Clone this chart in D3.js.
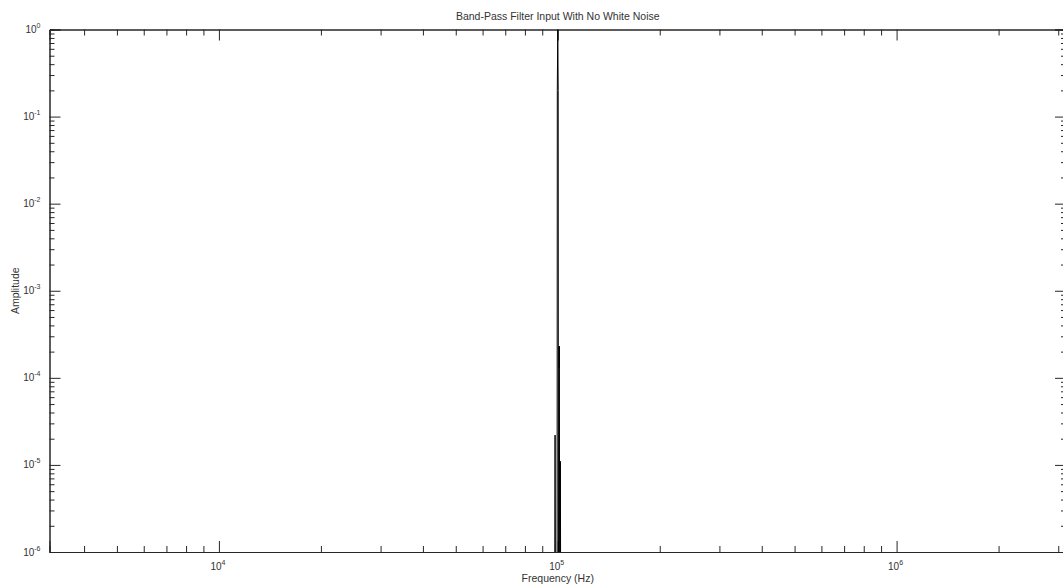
<!DOCTYPE html>
<html><head><meta charset="utf-8">
<script src="https://cdn.jsdelivr.net/npm/d3@7"></script>
<style>
body{margin:0;background:#fff;}
svg{display:block;font-family:"Liberation Sans",Arial,sans-serif;}
</style></head>
<body>
<svg id="chart" width="1063" height="586"></svg>
<script>
// ---- data ----
const title = "Band-Pass Filter Input With No White Noise";
const xLabel = "Frequency (Hz)";
const yLabel = "Amplitude";
const xDomain = [3162.28, 3162278];
const yDomain = [1e-6, 1];
const xMajorTicks = [1e4, 1e5, 1e6];
const xMajorExp = ["4", "5", "6"];
const yMajorTicks = [1e-6, 1e-5, 1e-4, 1e-3, 1e-2, 1e-1, 1];
const yMajorExp = ["-6", "-5", "-4", "-3", "-2", "-1", "0"];
const freq = [97800, 98200, 98600, 99500, 99700, 100000, 100300, 100500, 100900, 101000, 101100, 101400, 101800, 102200];
const amp  = [1e-8, 2.2e-5, 1e-8, 1e-8, 0.2, 1.0, 0.2, 1e-8, 2.3e-4, 1.3e-4, 2.3e-4, 1e-8, 1.1e-5, 1e-8];

// ---- layout ----
const svg = d3.select("#chart");
const L = 49.5, R = 1066, T = 29.5, B = 552;
const x = d3.scaleLog().domain(xDomain).range([L, R]);
const y = d3.scaleLog().domain(yDomain).range([B, T]);
const axisColor = "#262626";

const xMinor = x.ticks().filter(v => !xMajorTicks.some(m => Math.abs(m - v) / m < 1e-6));
const yMinor = y.ticks().filter(v => !yMajorTicks.some(m => Math.abs(m - v) / m < 1e-6));

function drawAxis(axisFn, scale, vals, size, tr) {
  const g = svg.append("g").attr("transform", tr)
    .call(axisFn(scale).tickValues(vals).tickSize(-size).tickFormat(""));
  g.select(".domain").attr("stroke", axisColor);
  g.selectAll(".tick line").attr("stroke", axisColor);
  return g;
}
drawAxis(d3.axisBottom, x, xMajorTicks, 11, `translate(0,${B})`);
drawAxis(d3.axisBottom, x, xMinor, 6, `translate(0,${B})`);
drawAxis(d3.axisTop, x, xMajorTicks, 11, `translate(0,${T})`);
drawAxis(d3.axisTop, x, xMinor, 6, `translate(0,${T})`);
drawAxis(d3.axisLeft, y, yMajorTicks, 11, `translate(${L},0)`);
drawAxis(d3.axisLeft, y, yMinor, 5, `translate(${L},0)`);
drawAxis(d3.axisRight, y, yMajorTicks, 11, `translate(${R},0)`);
drawAxis(d3.axisRight, y, yMinor, 5, `translate(${R},0)`);

// tick labels
const xl = svg.append("g").attr("font-size", 10).attr("fill", "#333");
xMajorTicks.forEach((v, i) => {
  const t = xl.append("text").attr("x", x(v) - 1).attr("y", B + 18).attr("text-anchor", "middle");
  t.append("tspan").text("10");
  t.append("tspan").attr("dy", -5).attr("font-size", 7).text(xMajorExp[i]);
});
const yl = svg.append("g").attr("font-size", 10).attr("fill", "#333");
yMajorTicks.forEach((v, i) => {
  const t = yl.append("text").attr("x", L - 9).attr("y", y(v) + 3.5).attr("text-anchor", "end");
  t.append("tspan").text("10");
  t.append("tspan").attr("dy", -5).attr("font-size", 7).text(yMajorExp[i]);
});

// data line
svg.append("clipPath").attr("id", "clip").append("rect")
  .attr("x", L).attr("y", T).attr("width", R - L).attr("height", B - T);
const line = d3.line().x((d, i) => x(freq[i])).y((d, i) => y(amp[i]));
svg.append("path").datum(amp).attr("clip-path", "url(#clip)")
  .attr("fill", "none").attr("stroke", "#000").attr("stroke-width", 1)
  .attr("d", line);

// titles
svg.append("text").attr("x", (L + R) / 2).attr("y", 20).attr("text-anchor", "middle")
  .attr("font-size", 10.5).attr("fill", "#333").text(title);
svg.append("text").attr("x", (L + R) / 2).attr("y", 582).attr("text-anchor", "middle")
  .attr("font-size", 10.5).attr("fill", "#333").text(xLabel);
svg.append("text").attr("transform", `translate(19,${(T + B) / 2}) rotate(-90)`)
  .attr("text-anchor", "middle").attr("font-size", 10.5).attr("fill", "#333").text(yLabel);
</script>
</body></html>
